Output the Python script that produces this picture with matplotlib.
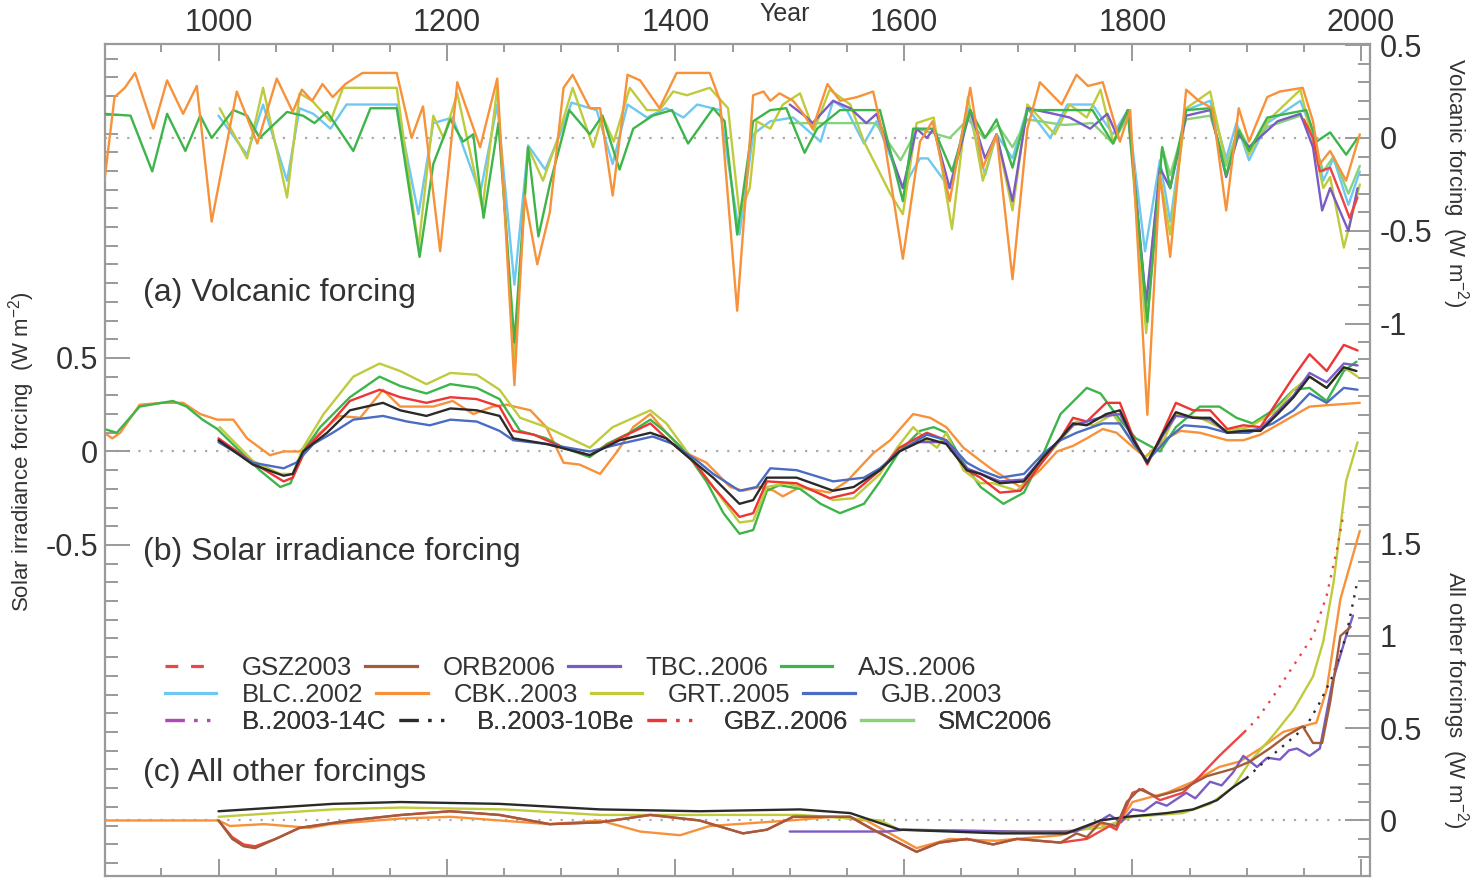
import numpy as np
import matplotlib.pyplot as plt
from matplotlib.lines import Line2D
from matplotlib.ticker import FixedLocator

plt.rcParams['font.family'] = ['Liberation Sans', 'DejaVu Sans']
plt.rcParams['mathtext.fontset'] = 'custom'
plt.rcParams['mathtext.rm'] = 'Liberation Sans'
plt.rcParams['mathtext.it'] = 'Liberation Sans:italic'

# ---- (a) volcanic forcing, (year, W m-2) ----
vol_cbk = [(900, -0.24), (909, 0.22), (918, 0.27), (927, 0.35), (943, 0.05), (955, 0.31), (969, 0.13),
           (981, 0.28), (994, -0.45), (1016, 0.25), (1034, -0.03), (1051, 0.32), (1065, 0.14), (1073, 0.26),
           (1082, 0.20), (1091, 0.29), (1100, 0.22), (1111, 0.29), (1126, 0.35), (1156, 0.35), (1169, 0.00),
           (1179, 0.17), (1194, -0.61), (1209, 0.30), (1229, -0.05), (1244, 0.32), (1259, -1.33), (1268, -0.31),
           (1279, -0.68), (1290, -0.40), (1302, 0.27), (1310, 0.34), (1325, 0.16), (1334, 0.16), (1345, -0.31),
           (1358, 0.34), (1369, 0.31), (1386, 0.16), (1401, 0.35), (1430, 0.35), (1439, 0.20), (1454, -0.93),
           (1468, 0.23), (1477, 0.25), (1483, 0.20), (1491, 0.24), (1503, 0.20), (1512, 0.13), (1520, 0.05),
           (1533, 0.29), (1544, 0.20), (1559, 0.22), (1573, 0.25), (1583, -0.02), (1599, -0.65), (1614, -0.02),
           (1625, 0.09), (1640, -0.34), (1658, 0.27), (1669, -0.16), (1681, 0.02), (1695, -0.76), (1708, 0.05),
           (1719, 0.30), (1738, 0.18), (1751, 0.34), (1761, 0.28), (1774, 0.30), (1789, -0.02), (1798, 0.15),
           (1813, -1.49), (1824, -0.20), (1833, -0.64), (1847, 0.26), (1858, 0.20), (1870, 0.16), (1882, -0.39),
           (1893, 0.16), (1902, -0.02), (1918, 0.22), (1929, 0.25), (1949, 0.27), (1958, 0.09), (1964, -0.14),
           (1973, -0.07), (1987, -0.23), (1999, 0.02)]
vol_ajs = [(900, 0.13), (923, 0.12), (942, -0.18), (955, 0.13), (971, -0.07), (984, 0.12), (994, 0.00),
           (1013, 0.15), (1025, 0.12), (1036, 0.00), (1060, 0.14), (1074, 0.12), (1084, 0.08), (1095, 0.14),
           (1118, -0.07), (1133, 0.16), (1156, 0.16), (1176, -0.64), (1188, -0.14), (1203, 0.10), (1214, -0.02),
           (1223, 0.02), (1232, -0.43), (1245, 0.08), (1259, -1.10), (1271, -0.05), (1280, -0.53), (1290, -0.25),
           (1307, 0.15), (1325, 0.02), (1336, 0.12), (1351, -0.17), (1363, 0.05), (1380, 0.12), (1397, 0.15),
           (1411, -0.03), (1433, 0.16), (1443, 0.09), (1454, -0.52), (1468, 0.09), (1483, 0.15), (1497, 0.16),
           (1513, -0.08), (1524, 0.05), (1544, 0.15), (1579, 0.15), (1599, -0.34), (1608, 0.05), (1626, 0.05),
           (1642, -0.18), (1658, 0.15), (1671, 0.00), (1681, 0.10), (1695, -0.16), (1708, 0.15), (1765, 0.15),
           (1783, -0.03), (1796, 0.15), (1813, -0.99), (1826, -0.05), (1833, -0.27), (1847, 0.15), (1868, 0.16),
           (1882, -0.20), (1893, 0.04), (1902, -0.07), (1918, 0.11), (1952, 0.15), (1961, -0.02), (1973, 0.03),
           (1987, -0.09), (1997, 0.00)]
vol_blc = [(1000, 0.12), (1025, -0.09), (1039, 0.18), (1060, -0.23), (1071, 0.16), (1083, 0.13), (1098, 0.05),
           (1112, 0.18), (1156, 0.18), (1175, -0.41), (1188, 0.08), (1205, 0.11), (1229, -0.30), (1244, 0.18),
           (1259, -0.79), (1271, -0.04), (1286, -0.17), (1299, 0.02), (1309, 0.19), (1331, 0.15), (1345, -0.14),
           (1358, 0.18), (1375, 0.11), (1392, 0.16), (1407, 0.11), (1419, 0.18), (1439, 0.15), (1456, -0.52),
           (1468, 0.02), (1483, 0.09), (1503, 0.11), (1527, -0.02), (1538, 0.20), (1550, 0.15), (1565, -0.03),
           (1576, 0.09), (1599, -0.27), (1614, -0.11), (1621, -0.11), (1640, -0.27), (1656, 0.16), (1671, -0.20),
           (1681, 0.02), (1695, -0.11), (1708, 0.16), (1728, 0.00), (1743, 0.18), (1765, 0.18), (1783, 0.02),
           (1796, 0.15), (1811, -0.61), (1824, -0.12), (1833, -0.45), (1847, 0.15), (1868, 0.20), (1882, -0.11),
           (1891, 0.08), (1902, -0.12), (1918, 0.08), (1947, 0.20), (1958, 0.02), (1967, -0.23), (1976, -0.11),
           (1989, -0.36), (1999, -0.18)]
vol_grt = [(1001, 0.16), (1025, -0.11), (1039, 0.27), (1060, -0.32), (1071, 0.24), (1082, 0.20), (1098, 0.09),
           (1109, 0.27), (1156, 0.27), (1175, -0.59), (1188, 0.12), (1197, 0.00), (1209, 0.24), (1231, -0.38),
           (1244, 0.27), (1259, -1.20), (1271, -0.05), (1284, -0.23), (1296, -0.02), (1310, 0.27), (1328, -0.05),
           (1336, 0.12), (1346, -0.02), (1360, 0.27), (1375, 0.15), (1386, 0.15), (1398, 0.25), (1410, 0.23),
           (1430, 0.27), (1446, 0.16), (1456, -0.41), (1465, -0.27), (1471, 0.09), (1483, 0.05), (1494, 0.18),
           (1509, 0.24), (1521, 0.04), (1535, 0.26), (1553, 0.18), (1565, -0.02), (1588, -0.30), (1599, -0.41),
           (1611, 0.08), (1626, 0.11), (1642, -0.49), (1656, 0.22), (1669, -0.23), (1681, 0.02), (1695, -0.39),
           (1708, 0.18), (1732, 0.02), (1745, 0.18), (1760, 0.11), (1772, 0.26), (1783, -0.02), (1796, 0.15),
           (1812, -1.05), (1824, -0.20), (1833, -0.52), (1847, 0.16), (1868, 0.25), (1882, -0.14), (1893, 0.05),
           (1902, -0.09), (1918, 0.09), (1947, 0.26), (1958, -0.02), (1967, -0.27), (1973, -0.21), (1985, -0.59),
           (1999, -0.25)]
vol_tbc = [(1500, 0.18), (1515, 0.11), (1520, 0.08), (1538, 0.20), (1553, 0.16), (1567, 0.08), (1576, 0.13),
           (1599, -0.27), (1611, 0.05), (1620, 0.00), (1626, 0.05), (1640, -0.27), (1658, 0.15), (1671, -0.11),
           (1681, 0.02), (1695, -0.34), (1708, 0.16), (1731, 0.13), (1745, 0.11), (1763, 0.05), (1778, 0.13),
           (1786, 0.02), (1796, 0.15), (1812, -0.89), (1824, -0.16), (1833, -0.27), (1847, 0.12), (1868, 0.15),
           (1882, -0.21), (1893, 0.02), (1902, -0.05), (1927, 0.09), (1947, 0.13), (1958, -0.05), (1966, -0.39),
           (1973, -0.27), (1989, -0.50), (1997, -0.27)]
vol_smc = [(1500, 0.08), (1575, 0.08), (1597, -0.12), (1612, 0.05), (1640, 0.00), (1656, 0.10), (1670, 0.00),
           (1682, 0.07), (1695, -0.05), (1708, 0.10), (1740, 0.07), (1765, 0.08), (1783, -0.03), (1796, 0.12),
           (1812, -0.90), (1826, -0.05), (1833, -0.20), (1847, 0.10), (1868, 0.12), (1882, -0.15), (1893, 0.05),
           (1902, -0.05), (1918, 0.06), (1947, 0.12), (1958, 0.00), (1967, -0.18), (1976, -0.10), (1989, -0.30),
           (1999, -0.15)]
vol_gsz = [(1950, 0.10), (1958, 0.00), (1964, -0.18), (1973, -0.16), (1982, -0.30), (1990, -0.43), (1997, -0.32)]

# ---- (b) solar irradiance forcing ----
sol_cbk = [(900, 0.10), (907, 0.07), (914, 0.10), (931, 0.25), (951, 0.26), (969, 0.26), (984, 0.20), (999, 0.17),
           (1013, 0.17), (1025, 0.07), (1045, -0.02), (1057, 0.00), (1071, 0.00), (1089, 0.10), (1106, 0.19),
           (1124, 0.18), (1144, 0.33), (1159, 0.24), (1188, 0.24), (1205, 0.27), (1223, 0.20), (1240, 0.24),
           (1252, 0.25), (1273, 0.22), (1287, 0.13), (1302, -0.06), (1316, -0.07), (1334, -0.12), (1349, 0.00),
           (1363, 0.13), (1378, 0.20), (1392, 0.10), (1410, -0.01), (1427, -0.06), (1448, -0.19), (1459, -0.21),
           (1474, -0.19), (1486, -0.21), (1494, -0.24), (1509, -0.19), (1535, -0.22), (1550, -0.16), (1573, -0.01),
           (1588, 0.06), (1608, 0.20), (1623, 0.18), (1637, 0.13), (1652, 0.02), (1667, -0.05), (1678, -0.10),
           (1702, -0.19), (1719, -0.10), (1734, 0.00), (1748, 0.03), (1760, 0.07), (1774, 0.12), (1786, 0.10),
           (1801, 0.02), (1811, -0.03), (1827, 0.06), (1842, 0.11), (1859, 0.10), (1883, 0.06), (1897, 0.06),
           (1912, 0.09), (1935, 0.17), (1955, 0.24), (1976, 0.25), (1999, 0.26)]
sol_ajs = [(900, 0.12), (911, 0.10), (931, 0.24), (960, 0.27), (972, 0.24), (986, 0.17), (999, 0.12), (1019, 0.00),
           (1036, -0.10), (1054, -0.19), (1063, -0.17), (1074, 0.00), (1089, 0.13), (1115, 0.29), (1141, 0.40),
           (1159, 0.35), (1182, 0.31), (1203, 0.36), (1226, 0.34), (1246, 0.28), (1264, 0.11), (1287, 0.07),
           (1302, 0.02), (1325, -0.03), (1340, 0.04), (1360, 0.10), (1378, 0.17), (1392, 0.10), (1410, -0.01),
           (1427, -0.16), (1442, -0.33), (1456, -0.44), (1468, -0.42), (1480, -0.21), (1491, -0.18), (1509, -0.20),
           (1527, -0.28), (1544, -0.33), (1565, -0.28), (1579, -0.16), (1596, 0.00), (1614, 0.11), (1626, 0.13),
           (1637, 0.10), (1652, -0.06), (1667, -0.19), (1687, -0.28), (1705, -0.22), (1722, -0.01), (1737, 0.20),
           (1760, 0.34), (1772, 0.31), (1789, 0.17), (1803, 0.07), (1824, 0.00), (1838, 0.13), (1859, 0.24),
           (1876, 0.24), (1891, 0.18), (1905, 0.15), (1923, 0.22), (1941, 0.33), (1955, 0.34), (1970, 0.27),
           (1985, 0.43), (1996, 0.48)]
sol_grt = [(1001, 0.13), (1030, -0.05), (1054, -0.12), (1065, -0.12), (1074, 0.02), (1092, 0.20), (1118, 0.40),
           (1141, 0.47), (1159, 0.43), (1182, 0.36), (1203, 0.42), (1226, 0.41), (1246, 0.33), (1264, 0.18),
           (1287, 0.13), (1325, 0.02), (1345, 0.13), (1378, 0.22), (1392, 0.15), (1410, 0.00), (1433, -0.19),
           (1456, -0.38), (1468, -0.37), (1480, -0.19), (1497, -0.17), (1521, -0.21), (1538, -0.26), (1556, -0.25),
           (1579, -0.12), (1594, 0.02), (1608, 0.13), (1620, 0.06), (1629, 0.02), (1637, 0.10), (1652, -0.10),
           (1667, -0.17), (1678, -0.17), (1699, -0.21), (1716, -0.09), (1737, 0.06), (1751, 0.16), (1766, 0.14),
           (1783, 0.20), (1801, 0.04), (1811, -0.03), (1824, 0.02), (1838, 0.20), (1859, 0.18), (1883, 0.11),
           (1902, 0.13), (1927, 0.22), (1941, 0.33), (1955, 0.40), (1970, 0.34), (1985, 0.45), (1997, 0.40)]
sol_gbz = [(1000, 0.07), (1030, -0.06), (1057, -0.16), (1065, -0.14), (1077, 0.02), (1095, 0.13), (1115, 0.27),
           (1141, 0.33), (1159, 0.29), (1182, 0.26), (1203, 0.29), (1226, 0.28), (1246, 0.24), (1258, 0.11),
           (1276, 0.09), (1302, 0.02), (1325, -0.02), (1351, 0.07), (1378, 0.15), (1392, 0.07), (1415, -0.05),
           (1433, -0.19), (1456, -0.35), (1468, -0.33), (1480, -0.16), (1506, -0.17), (1535, -0.25), (1556, -0.22),
           (1579, -0.10), (1596, 0.02), (1620, 0.10), (1637, 0.06), (1655, -0.10), (1667, -0.14), (1684, -0.22),
           (1702, -0.21), (1722, -0.05), (1737, 0.07), (1748, 0.18), (1760, 0.16), (1777, 0.26), (1789, 0.26),
           (1801, 0.07), (1813, -0.07), (1827, 0.11), (1838, 0.26), (1853, 0.22), (1868, 0.22), (1883, 0.12),
           (1897, 0.14), (1912, 0.13), (1927, 0.27), (1941, 0.40), (1955, 0.52), (1970, 0.43), (1985, 0.57),
           (1997, 0.54)]
sol_b10be = [(1000, 0.06), (1030, -0.07), (1057, -0.13), (1065, -0.12), (1074, 0.00), (1095, 0.10), (1115, 0.22),
             (1144, 0.26), (1159, 0.22), (1182, 0.19), (1203, 0.23), (1226, 0.22), (1246, 0.19), (1258, 0.07),
             (1287, 0.04), (1325, -0.02), (1351, 0.06), (1378, 0.10), (1392, 0.07), (1415, -0.05), (1433, -0.14),
             (1456, -0.28), (1468, -0.26), (1480, -0.14), (1506, -0.14), (1538, -0.21), (1556, -0.19), (1579, -0.10),
             (1596, 0.00), (1620, 0.07), (1637, 0.04), (1655, -0.10), (1667, -0.12), (1684, -0.17), (1705, -0.16),
             (1722, -0.03), (1737, 0.07), (1748, 0.15), (1760, 0.14), (1777, 0.20), (1789, 0.22), (1801, 0.06),
             (1813, -0.06), (1827, 0.10), (1838, 0.21), (1853, 0.18), (1868, 0.18), (1883, 0.10), (1897, 0.11),
             (1912, 0.11), (1927, 0.20), (1941, 0.29), (1955, 0.40), (1970, 0.34), (1985, 0.45), (1996, 0.43)]
sol_gjb = [(1000, 0.05), (1030, -0.06), (1057, -0.09), (1068, -0.06), (1083, 0.04), (1100, 0.10), (1118, 0.17),
           (1144, 0.19), (1165, 0.16), (1185, 0.14), (1203, 0.17), (1226, 0.16), (1246, 0.11), (1258, 0.06),
           (1287, 0.04), (1325, 0.00), (1351, 0.04), (1380, 0.08), (1398, 0.04), (1419, -0.05), (1433, -0.12),
           (1456, -0.21), (1471, -0.19), (1483, -0.09), (1506, -0.10), (1538, -0.16), (1565, -0.14), (1579, -0.09),
           (1596, 0.00), (1620, 0.09), (1637, 0.06), (1655, -0.06), (1667, -0.10), (1684, -0.14), (1705, -0.12),
           (1722, -0.01), (1737, 0.06), (1751, 0.10), (1774, 0.15), (1789, 0.15), (1801, 0.04), (1813, -0.05),
           (1831, 0.07), (1845, 0.14), (1865, 0.13), (1883, 0.10), (1902, 0.10), (1923, 0.15), (1941, 0.22),
           (1955, 0.31), (1970, 0.26), (1985, 0.34), (1997, 0.33)]
sol_tbc = [(1610, 0.05), (1637, 0.05), (1655, -0.09), (1684, -0.16), (1705, -0.15), (1722, -0.03), (1748, 0.14),
           (1777, 0.19), (1789, 0.20), (1801, 0.06), (1813, -0.06), (1827, 0.09), (1838, 0.19), (1868, 0.17),
           (1883, 0.10), (1912, 0.12), (1941, 0.30), (1955, 0.42), (1970, 0.37), (1985, 0.47), (1997, 0.46)]

# ---- (c) all other forcings ----
oth_cbk = [(900, 0.00), (1000, 0.00), (1010, -0.03), (1040, -0.02), (1080, -0.04), (1098, -0.02), (1159, 0.01),
           (1203, 0.02), (1246, 0.00), (1290, -0.02), (1334, 0.00), (1369, -0.06), (1404, -0.08), (1430, -0.03),
           (1500, 0.00), (1538, 0.02), (1567, 0.00), (1611, -0.15), (1640, -0.10), (1680, -0.11), (1737, -0.08),
           (1772, -0.02), (1786, -0.04), (1800, 0.10), (1830, 0.15), (1853, 0.21), (1876, 0.29), (1894, 0.32),
           (1912, 0.39), (1932, 0.48), (1949, 0.51), (1961, 0.53), (1970, 0.71), (1982, 1.20), (1999, 1.57)]
oth_orb = [(1000, 0.00), (1012, -0.10), (1022, -0.14), (1032, -0.15), (1050, -0.10), (1071, -0.04), (1115, 0.00),
           (1160, 0.03), (1203, 0.05), (1246, 0.03), (1290, -0.02), (1334, -0.01), (1378, 0.03), (1421, 0.00),
           (1459, -0.07), (1480, -0.05), (1503, 0.02), (1553, 0.02), (1573, -0.05), (1611, -0.17), (1631, -0.12),
           (1655, -0.10), (1678, -0.13), (1699, -0.10), (1737, -0.12), (1751, -0.07), (1760, -0.09), (1772, -0.01),
           (1786, -0.03), (1795, 0.10), (1806, 0.17), (1821, 0.13), (1844, 0.17), (1865, 0.24), (1888, 0.28),
           (1903, 0.32), (1920, 0.39), (1935, 0.46), (1949, 0.51), (1958, 0.42), (1966, 0.42), (1973, 0.64),
           (1982, 1.00), (1991, 1.05)]
oth_gsz = [(1000, 0.00), (1012, -0.09), (1022, -0.13), (1032, -0.14), (1050, -0.10), (1071, -0.04), (1115, 0.00),
           (1160, 0.03), (1203, 0.05), (1246, 0.03), (1290, -0.02), (1334, -0.01), (1378, 0.03), (1421, 0.00),
           (1459, -0.07), (1480, -0.05), (1503, 0.02), (1553, 0.02), (1573, -0.05), (1611, -0.17), (1631, -0.12),
           (1655, -0.10), (1678, -0.13), (1699, -0.10), (1737, -0.12), (1760, -0.10), (1780, -0.03), (1786, -0.05),
           (1800, 0.15), (1809, 0.17), (1824, 0.11), (1844, 0.15), (1859, 0.24), (1876, 0.35), (1898, 0.48)]
oth_gsz_dot = [(1898, 0.48), (1909, 0.55), (1923, 0.67), (1941, 0.84), (1958, 1.00), (1970, 1.22), (1979, 1.47),
               (1985, 1.67)]
oth_b10be = [(1000, 0.05), (1050, 0.07), (1100, 0.09), (1159, 0.10), (1246, 0.09), (1334, 0.06), (1421, 0.05),
             (1509, 0.06), (1553, 0.04), (1596, -0.05), (1684, -0.07), (1742, -0.07), (1772, 0.00), (1795, 0.02),
             (1830, 0.04), (1853, 0.06), (1874, 0.11), (1888, 0.18), (1900, 0.23)]
oth_b10be_dot = [(1900, 0.23), (1912, 0.30), (1935, 0.42), (1952, 0.51), (1964, 0.64), (1975, 0.78), (1987, 1.00),
                 (1996, 1.27)]
oth_grt = [(1000, 0.02), (1050, 0.04), (1100, 0.06), (1160, 0.07), (1250, 0.06), (1334, 0.03), (1421, 0.03),
           (1509, 0.03), (1579, 0.00), (1596, -0.05), (1700, -0.06), (1737, -0.06), (1772, -0.04), (1800, 0.02),
           (1844, 0.04), (1868, 0.09), (1888, 0.18), (1903, 0.32), (1923, 0.46), (1941, 0.60), (1958, 0.78),
           (1967, 0.97), (1976, 1.29), (1987, 1.84), (1997, 2.05)]
oth_tbc = [(1500, -0.06), (1585, -0.06), (1600, -0.05), (1700, -0.06), (1750, -0.06), (1772, 0.00), (1780, 0.03),
           (1790, -0.01), (1800, 0.06), (1810, 0.05), (1821, 0.10), (1830, 0.08), (1847, 0.15), (1855, 0.12),
           (1868, 0.21), (1878, 0.19), (1888, 0.26), (1897, 0.35), (1909, 0.29), (1918, 0.34), (1929, 0.33),
           (1937, 0.38), (1944, 0.39), (1955, 0.35), (1964, 0.39), (1975, 0.75), (1987, 1.00), (1993, 1.11)]

legend_rows = [['GSZ2003', 'ORB2006', 'TBC..2006', 'AJS..2006'],
               ['BLC..2002', 'CBK..2003', 'GRT..2005', 'GJB..2003'],
               ['B..2003-14C', 'B..2003-10Be', 'GBZ..2006', 'SMC2006']]

col = {'GSZ2003': '#ee4444', 'ORB2006': '#a25c3a', 'TBC..2006': '#7a5cc4', 'AJS..2006': '#3db54a',
       'BLC..2002': '#6ec8f2', 'CBK..2003': '#f7923a', 'GRT..2005': '#bfcb3c', 'GJB..2003': '#4a6cc2',
       'B..2003-14C': '#b048b8', 'B..2003-10Be': '#2a2a2a', 'GBZ..2006': '#ee3535', 'SMC2006': '#88d27c'}
dashdotdot = (0, (6, 3, 1, 3, 1, 3))
style = {'GSZ2003': (0, (4, 4)), 'B..2003-14C': dashdotdot, 'B..2003-10Be': dashdotdot, 'GBZ..2006': dashdotdot}

W, H = 1473, 880
LW = 1.7
TXT = '#333333'
FRAME = '#9a9a9a'


def xy(pairs):
    a = np.array(pairs, dtype=float)
    return a[:, 0], a[:, 1]


def draw(axis, pairs, key, ls='-'):
    x, y = xy(pairs)
    axis.plot(x, y, color=col[key], lw=LW, ls=ls, solid_capstyle='round')


fig = plt.figure(figsize=(W / 100, H / 100), dpi=100)
left, right, top, bottom = 105, 1370, 44.5, 876
ax = fig.add_axes([left / W, 1 - bottom / H, (right - left) / W, (bottom - top) / H])
axv = ax.twinx()
axo = ax.twinx()

ax.set_xlim(900.65, 2007.9)
ax.set_ylim(-2.270, 2.176)
axv.set_ylim(-3.972, 0.503)
axo.set_ylim(-0.301, 4.206)

for a in (ax, axv, axo):
    a.axhline(0, color='#aaaaaa', lw=1.6, ls=(0, (1, 4)), zorder=0)

# (a)
draw(axv, vol_blc, 'BLC..2002')
draw(axv, vol_grt, 'GRT..2005')
draw(axv, vol_smc, 'SMC2006')
draw(axv, vol_tbc, 'TBC..2006')
draw(axv, vol_gsz, 'GSZ2003')
draw(axv, vol_ajs, 'AJS..2006')
draw(axv, vol_cbk, 'CBK..2003')

# (b)
draw(ax, sol_cbk, 'CBK..2003')
draw(ax, sol_ajs, 'AJS..2006')
draw(ax, sol_grt, 'GRT..2005')
draw(ax, sol_gbz, 'GBZ..2006')
draw(ax, sol_gjb, 'GJB..2003')
draw(ax, sol_tbc, 'TBC..2006')
draw(ax, sol_b10be, 'B..2003-10Be')

# (c)
draw(axo, oth_cbk, 'CBK..2003')
draw(axo, oth_grt, 'GRT..2005')
draw(axo, oth_tbc, 'TBC..2006')
draw(axo, oth_b10be, 'B..2003-10Be')
draw(axo, oth_b10be_dot, 'B..2003-10Be', ls=(0, (1, 3)))
draw(axo, oth_gsz, 'GSZ2003')
draw(axo, oth_gsz_dot, 'GSZ2003', ls=(0, (1, 3)))
draw(axo, oth_orb, 'ORB2006')

# frame and ticks
for s in ax.spines.values():
    s.set_color(FRAME)
    s.set_linewidth(1.6)
for a in (axv, axo):
    for s in a.spines.values():
        s.set_visible(False)

ax.xaxis.set_major_locator(FixedLocator([1000, 1200, 1400, 1600, 1800, 2000]))
ax.xaxis.set_minor_locator(FixedLocator(np.arange(950, 2001, 50)))
ax.tick_params(axis='x', which='both', direction='in', top=True, bottom=True,
               labeltop=True, labelbottom=False, color=FRAME, width=1.4)
ax.tick_params(axis='x', which='major', length=12, labelsize=22, labelcolor=TXT, pad=5)
ax.tick_params(axis='x', which='minor', length=6)

ax.yaxis.set_major_locator(FixedLocator([-0.5, 0, 0.5]))
ax.set_yticklabels(['-0.5', '0', '0.5'])
ax.yaxis.set_minor_locator(FixedLocator(np.round(np.arange(-2.2, 2.15, 0.1), 1)))
ax.tick_params(axis='y', which='both', direction='in', left=True, right=False, color=FRAME, width=1.4)
ax.tick_params(axis='y', which='major', length=18, labelsize=22, labelcolor=TXT, pad=5)
ax.tick_params(axis='y', which='minor', length=9)

axv.yaxis.set_major_locator(FixedLocator([-1, -0.5, 0, 0.5]))
axv.set_yticklabels(['-1', '-0.5', '0', '0.5'])
axv.yaxis.set_minor_locator(FixedLocator(np.round(np.arange(-1.1, 0.45, 0.1), 1)))
axo.yaxis.set_major_locator(FixedLocator([0, 0.5, 1, 1.5]))
axo.set_yticklabels(['0', '0.5', '1', '1.5'])
axo.yaxis.set_minor_locator(FixedLocator(np.round(np.arange(-0.3, 2.55, 0.1), 1)))
for a in (axv, axo):
    a.tick_params(axis='y', which='both', direction='in', right=True, left=False, color=FRAME, width=1.4)
    a.tick_params(axis='y', which='major', length=18, labelsize=22, labelcolor=TXT, pad=7)
    a.tick_params(axis='y', which='minor', length=9)

# panel titles and axis labels
fig.text(143 / W, 1 - 293 / H, '(a) Volcanic forcing', fontsize=23, color=TXT, va='center')
fig.text(143 / W, 1 - 552 / H, '(b) Solar irradiance forcing', fontsize=23, color=TXT, va='center')
fig.text(143 / W, 1 - 773 / H, '(c) All other forcings', fontsize=23, color=TXT, va='center')
fig.text(22 / W, 1 - 452 / H, r'Solar irradiance forcing  (W m$^{-2}$)', fontsize=16, color=TXT,
         rotation=90, ha='center', va='center')
fig.text(1455 / W, 1 - 183 / H, r'Volcanic forcing  (W m$^{-2}$)', fontsize=16, color=TXT,
         rotation=270, ha='center', va='center')
fig.text(1455 / W, 1 - 700 / H, r'All other forcings  (W m$^{-2}$)', fontsize=16, color=TXT,
         rotation=270, ha='center', va='center')
fig.text(785 / W, 1 - 2 / H, 'Year', fontsize=18, color=TXT, ha='center', va='top')

# legend, one row at a time
for i, row in enumerate(legend_rows):
    handles = [Line2D([], [], color=col[k], lw=LW + 0.6, ls=style.get(k, '-')) for k in row]
    leg = ax.legend(handles, row, loc='center left', bbox_to_anchor=(165 / W, 1 - (668 + 27 * i) / H),
                    bbox_transform=fig.transFigure, ncol=4, frameon=False, fontsize=18.5,
                    handlelength=2.0, handletextpad=1.0, columnspacing=0.5,
                    borderpad=0, borderaxespad=0, labelcolor=TXT)
    ax.add_artist(leg)

fig.savefig('out.png', dpi=100)
